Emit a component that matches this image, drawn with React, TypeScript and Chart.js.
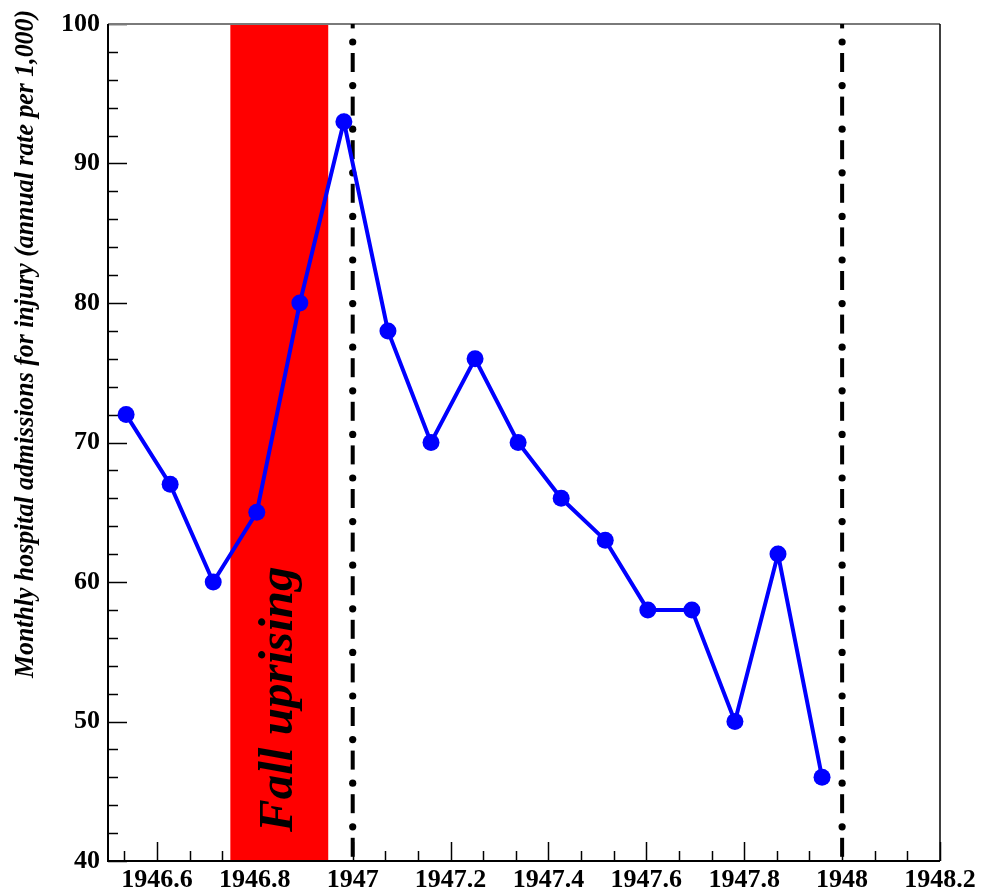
import React, { useEffect, useRef } from "react";
import { Chart, registerables } from "chart.js";

Chart.register(...registerables);

const monthX = [
  1946.537, 1946.627, 1946.715, 1946.804, 1946.892, 1946.982, 1947.072, 1947.16, 1947.25,
  1947.338, 1947.426, 1947.516, 1947.603, 1947.693, 1947.781, 1947.869, 1947.959,
];
const admissions = [72, 67, 60, 65, 80, 93, 78, 70, 76, 70, 66, 63, 58, 58, 50, 62, 46];

const xTickValues = [1946.6, 1946.8, 1947, 1947.2, 1947.4, 1947.6, 1947.8, 1948, 1948.2];
const xTickLabels = ["1946.6", "1946.8", "1947", "1947.2", "1947.4", "1947.6", "1947.8", "1948", "1948.2"];
const yTickValues = [40, 50, 60, 70, 80, 90, 100];
const yTickLabels = ["40", "50", "60", "70", "80", "90", "100"];

const bandStart = 1946.75;
const bandEnd = 1946.95;
const bandLabel = "Fall uprising";
const markerYears = [1947, 1948];
const yTitle = "Monthly hospital admissions for injury (annual rate per 1,000)";

const X_MIN = 1946.5;
const X_MAX = 1948.2;
const Y_MIN = 40;
const Y_MAX = 100;

const SERIF = '"Liberation Serif", "Times New Roman", serif';

const decorPlugin = {
  id: "decor",
  beforeDatasetsDraw(chart: any) {
    const { ctx, chartArea } = chart;
    const xs = chart.scales.x;
    const ys = chart.scales.y;
    const { left, right, top, bottom } = chartArea;
    ctx.save();
    // ticks (inward)
    ctx.strokeStyle = "#000";
    ctx.lineWidth = 1.5;
    const step = 0.2 / 3;
    for (let k = -1; k < 30; k++) {
      const v = 1946.6 + k * step;
      if (v < X_MIN - 1e-6 || v > X_MAX + 1e-6) continue;
      const major = Math.abs(k % 3) === 0;
      const px = Math.round(xs.getPixelForValue(v)) + 0.5;
      ctx.beginPath();
      ctx.moveTo(px, bottom);
      ctx.lineTo(px, bottom - (major ? 19 : 10));
      ctx.stroke();
    }
    for (let v = Y_MIN; v <= Y_MAX; v += 2) {
      const major = v % 10 === 0;
      const py = Math.round(ys.getPixelForValue(v)) + 0.5;
      ctx.beginPath();
      ctx.moveTo(left, py);
      ctx.lineTo(left + (major ? 19 : 10), py);
      ctx.stroke();
    }
    // red band
    const bx0 = xs.getPixelForValue(bandStart);
    const bx1 = xs.getPixelForValue(bandEnd);
    ctx.fillStyle = "#ff0000";
    ctx.fillRect(bx0, top, bx1 - bx0, bottom - top);
    // band label
    ctx.save();
    ctx.translate((bx0 + bx1) / 2 + 13, bottom - 29);
    ctx.rotate(-Math.PI / 2);
    ctx.fillStyle = "#000";
    ctx.font = `italic bold 49px ${SERIF}`;
    ctx.textAlign = "left";
    ctx.textBaseline = "alphabetic";
    ctx.fillText(bandLabel, 0, 0, 268);
    ctx.restore();
    // frame
    ctx.lineWidth = 2;
    ctx.strokeStyle = "#7a7a7a";
    ctx.beginPath();
    ctx.moveTo(left, top);
    ctx.lineTo(right, top);
    ctx.stroke();
    ctx.strokeStyle = "#000";
    ctx.beginPath();
    ctx.moveTo(left, top);
    ctx.lineTo(left, bottom);
    ctx.lineTo(right, bottom);
    ctx.stroke();
    ctx.lineWidth = 1.5;
    ctx.beginPath();
    ctx.moveTo(right, top);
    ctx.lineTo(right, bottom);
    ctx.stroke();
    // dash-dot marker lines
    ctx.beginPath();
    ctx.rect(left, top, right - left, bottom - top);
    ctx.clip();
    const period = 43.6;
    for (const yr of markerYears) {
      const px = xs.getPixelForValue(yr);
      for (let k = -1; k < 25; k++) {
        const yd = top + 18 + k * period;
        ctx.fillStyle = "#000";
        ctx.beginPath();
        ctx.arc(px, yd, 3.6, 0, Math.PI * 2);
        ctx.fill();
        ctx.fillRect(px - 2, yd + 11, 4, 19);
      }
    }
    ctx.restore();
  },
  afterDraw(chart: any) {
    const { ctx } = chart;
    ctx.save();
    ctx.translate(33, 678);
    ctx.rotate(-Math.PI / 2);
    ctx.fillStyle = "#000";
    ctx.font = `italic bold 28px ${SERIF}`;
    ctx.textAlign = "left";
    ctx.textBaseline = "alphabetic";
    ctx.fillText(yTitle, 0, 0, 668);
    ctx.restore();
  },
};

export default function App() {
  const ref = useRef<HTMLCanvasElement | null>(null);
  useEffect(() => {
    if (!ref.current) return;
    const chart = new Chart(ref.current, {
      type: "scatter",
      data: {
        datasets: [
          {
            data: monthX.map((x, i) => ({ x, y: admissions[i] })),
            showLine: true,
            borderColor: "#0000ff",
            backgroundColor: "#0000ff",
            borderWidth: 4,
            pointRadius: 8.5,
            pointHoverRadius: 8.5,
            pointBorderWidth: 0,
          },
        ],
      },
      options: {
        animation: false,
        responsive: true,
        maintainAspectRatio: false,
        layout: { padding: { top: 24, right: 41, left: 0, bottom: 0 } },
        plugins: { legend: { display: false }, tooltip: { enabled: false } },
        events: [],
        scales: {
          x: {
            type: "linear",
            min: X_MIN,
            max: X_MAX,
            afterBuildTicks: (scale: any) => {
              scale.ticks = xTickValues.map((v) => ({ value: v }));
            },
            afterFit: (scale: any) => {
              scale.height = 32;
            },
            grid: { display: false, drawTicks: false },
            border: { display: false },
            ticks: {
              autoSkip: false,
              maxRotation: 0,
              padding: 4,
              color: "#000",
              font: { family: SERIF, size: 26, weight: "bold" },
              callback: (v: any) => {
                const i = xTickValues.findIndex((t) => Math.abs(t - Number(v)) < 1e-6);
                return i >= 0 ? xTickLabels[i] : "";
              },
            },
          },
          y: {
            type: "linear",
            min: Y_MIN,
            max: Y_MAX,
            afterBuildTicks: (scale: any) => {
              scale.ticks = yTickValues.map((v) => ({ value: v }));
            },
            afterFit: (scale: any) => {
              scale.width = 108;
            },
            grid: { display: false, drawTicks: false },
            border: { display: false },
            ticks: {
              autoSkip: false,
              padding: 8,
              color: "#000",
              font: { family: SERIF, size: 26, weight: "bold" },
              callback: (v: any) => {
                const i = yTickValues.findIndex((t) => Math.abs(t - Number(v)) < 1e-6);
                return i >= 0 ? yTickLabels[i] : "";
              },
            },
          },
        },
      },
      plugins: [decorPlugin],
    });
    return () => chart.destroy();
  }, []);
  return (
    <div style={{ position: "fixed", left: 0, top: 0, width: 981, height: 893, background: "#fff" }}>
      <canvas ref={ref} />
    </div>
  );
}
